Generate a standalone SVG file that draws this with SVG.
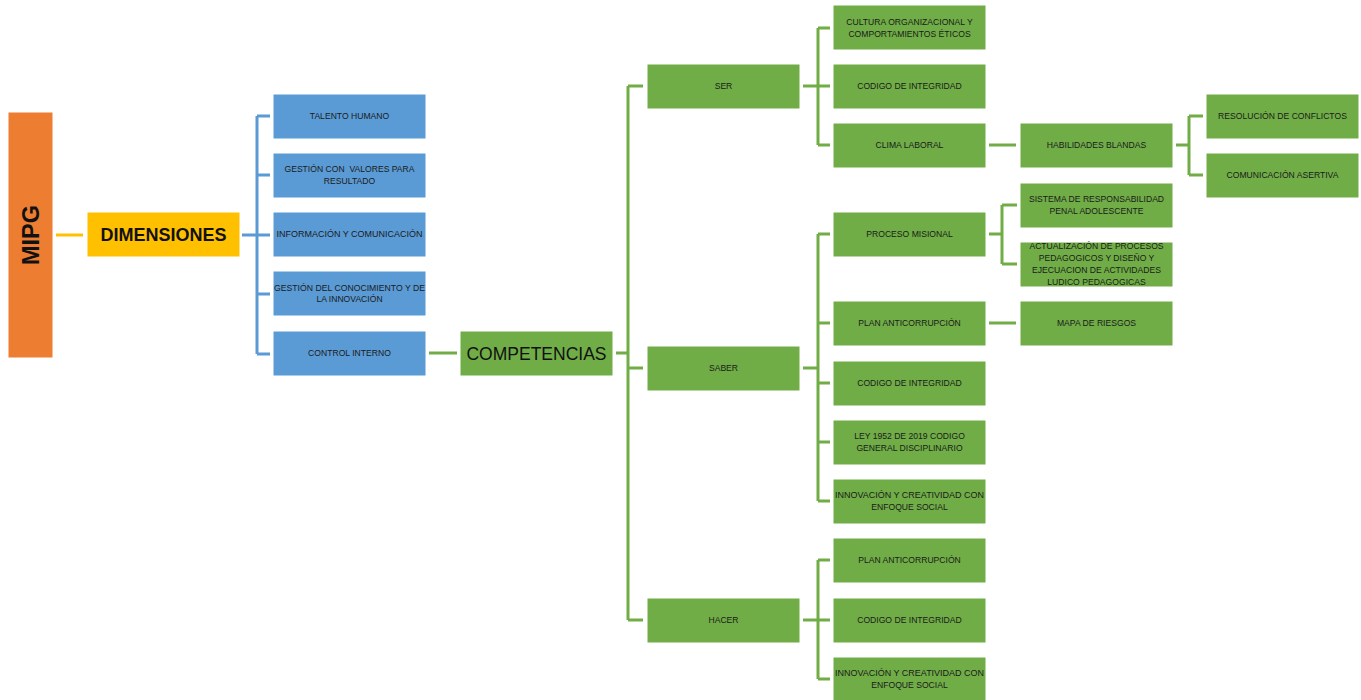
<svg xmlns="http://www.w3.org/2000/svg" width="1361" height="700" viewBox="0 0 1361 700">
<style>
.b{fill:#5B9BD5;stroke:#ffffff;stroke-width:1}
.g{fill:#70AD47;stroke:#ffffff;stroke-width:1}
.t{font-family:"Liberation Sans",Arial,sans-serif;font-size:8.6px;fill:#1a1a1a;text-anchor:middle}
.lb{fill:none;stroke:#5B9BD5;stroke-width:3}
.lg{fill:none;stroke:#70AD47;stroke-width:3}
</style>
<rect width="1361" height="700" fill="#ffffff"/>
<g id="connectors">
<line x1="56" y1="235" x2="83" y2="235" stroke="#FFC000" stroke-width="3"/>
<path class="lb" d="M242 235H270M257 116V354M257 116H270M257 175H270M257 294H270M257 354H270"/>
<path class="lg" d="M429 353H457"/>
<path class="lg" d="M616 353H628M628 86V620M628 86H643M628 368H643M628 620H643"/>
<path class="lg" d="M803 86H830M818 28V145M818 28H830M818 145H830"/>
<path class="lg" d="M989 145H1016"/>
<path class="lg" d="M1176 145H1189M1189 116V175M1189 116H1203M1189 175H1203"/>
<path class="lg" d="M803 368H818M818 234V501M818 234H830M818 323H830M818 383H830M818 442H830M818 501H830"/>
<path class="lg" d="M989 234H1002M1002 205V264M1002 205H1017M1002 264H1017"/>
<path class="lg" d="M989 323H1016"/>
<path class="lg" d="M803 620H830M818 560V679M818 560H830M818 679H830"/>
</g>
<g id="mipg"><rect x="8" y="112" width="45" height="246" fill="#ED7D31" stroke="#ffffff"/><text transform="translate(39,235) rotate(-90)" text-anchor="middle" font-family="Liberation Sans,Arial,sans-serif" font-weight="bold" font-size="23.5" fill="#111">MIPG</text></g>
<g id="dimensiones"><rect x="87" y="212" width="153" height="45" fill="#FFC000" stroke="#ffffff"/><text x="163.5" y="241" text-anchor="middle" font-family="Liberation Sans,Arial,sans-serif" font-weight="bold" font-size="18" fill="#111">DIMENSIONES</text></g>
<g id="talento"><rect class="b" x="273" y="94" width="153" height="45"/><text class="t" x="349.5" y="119">TALENTO HUMANO</text></g>
<g id="gestion-valores"><rect class="b" x="273" y="153" width="153" height="45"/><text class="t" x="349.5" y="172">GESTIÓN CON&#160; VALORES PARA</text><text class="t" x="349.5" y="184">RESULTADO</text></g>
<g id="informacion"><rect class="b" x="273" y="212" width="153" height="45"/><text class="t" x="349.5" y="237" textLength="146" lengthAdjust="spacingAndGlyphs">INFORMACIÓN Y COMUNICACIÓN</text></g>
<g id="gestion-conocimiento"><rect class="b" x="273" y="271" width="153" height="45"/><text class="t" x="349.5" y="291" textLength="151" lengthAdjust="spacingAndGlyphs">GESTIÓN DEL CONOCIMIENTO Y DE</text><text class="t" x="349.5" y="302">LA INNOVACIÓN</text></g>
<g id="control"><rect class="b" x="273" y="331" width="153" height="45"/><text class="t" x="349.5" y="356">CONTROL INTERNO</text></g>
<g id="competencias"><rect class="g" x="460" y="331" width="153" height="45"/><text x="536.5" y="360" text-anchor="middle" font-family="Liberation Sans,Arial,sans-serif" font-size="17.5" fill="#111">COMPETENCIAS</text></g>
<g id="ser"><rect class="g" x="647" y="64" width="153" height="45"/><text class="t" x="723.5" y="89">SER</text></g>
<g id="saber"><rect class="g" x="647" y="346" width="153" height="45"/><text class="t" x="723.5" y="371">SABER</text></g>
<g id="hacer"><rect class="g" x="647" y="598" width="153" height="45"/><text class="t" x="723.5" y="623">HACER</text></g>
<g id="cultura"><rect class="g" x="833" y="5" width="153" height="45"/><text class="t" x="909.5" y="25">CULTURA ORGANIZACIONAL Y</text><text class="t" x="909.5" y="37">COMPORTAMIENTOS ÉTICOS</text></g>
<g id="codigo-ser"><rect class="g" x="833" y="64" width="153" height="45"/><text class="t" x="909.5" y="89">CODIGO DE INTEGRIDAD</text></g>
<g id="clima"><rect class="g" x="833" y="123" width="153" height="45"/><text class="t" x="909.5" y="148">CLIMA LABORAL</text></g>
<g id="habilidades"><rect class="g" x="1020" y="123" width="153" height="45"/><text class="t" x="1096.5" y="148">HABILIDADES BLANDAS</text></g>
<g id="resolucion"><rect class="g" x="1206" y="94" width="153" height="45"/><text class="t" x="1282.5" y="119">RESOLUCIÓN DE CONFLICTOS</text></g>
<g id="comunicacion"><rect class="g" x="1206" y="153" width="153" height="45"/><text class="t" x="1282.5" y="178">COMUNICACIÓN ASERTIVA</text></g>
<g id="proceso"><rect class="g" x="833" y="212" width="153" height="45"/><text class="t" x="909.5" y="237">PROCESO MISIONAL</text></g>
<g id="sistema"><rect class="g" x="1020" y="183" width="153" height="45"/><text class="t" x="1096.5" y="202">SISTEMA DE RESPONSABILIDAD</text><text class="t" x="1096.5" y="214">PENAL ADOLESCENTE</text></g>
<g id="actualizacion"><rect class="g" x="1020" y="242" width="153" height="45"/><text class="t" x="1096.5" y="249">ACTUALIZACIÓN DE PROCESOS</text><text class="t" x="1096.5" y="261">PEDAGOGICOS Y DISEÑO Y</text><text class="t" x="1096.5" y="273">EJECUACION DE ACTIVIDADES</text><text class="t" x="1096.5" y="285">LUDICO PEDAGOGICAS</text></g>
<g id="plan-saber"><rect class="g" x="833" y="301" width="153" height="45"/><text class="t" x="909.5" y="326">PLAN ANTICORRUPCIÓN</text></g>
<g id="mapa"><rect class="g" x="1020" y="301" width="153" height="45"/><text class="t" x="1096.5" y="326">MAPA DE RIESGOS</text></g>
<g id="codigo-saber"><rect class="g" x="833" y="361" width="153" height="45"/><text class="t" x="909.5" y="386">CODIGO DE INTEGRIDAD</text></g>
<g id="ley"><rect class="g" x="833" y="420" width="153" height="45"/><text class="t" x="909.5" y="439">LEY 1952 DE 2019 CODIGO</text><text class="t" x="909.5" y="451">GENERAL DISCIPLINARIO</text></g>
<g id="innovacion-saber"><rect class="g" x="833" y="479" width="153" height="45"/><text class="t" x="909.5" y="498" textLength="149" lengthAdjust="spacingAndGlyphs">INNOVACIÓN Y CREATIVIDAD CON</text><text class="t" x="909.5" y="510">ENFOQUE SOCIAL</text></g>
<g id="plan-hacer"><rect class="g" x="833" y="538" width="153" height="45"/><text class="t" x="909.5" y="563">PLAN ANTICORRUPCIÓN</text></g>
<g id="codigo-hacer"><rect class="g" x="833" y="598" width="153" height="45"/><text class="t" x="909.5" y="623">CODIGO DE INTEGRIDAD</text></g>
<g id="innovacion-hacer"><rect class="g" x="833" y="657" width="153" height="45"/><text class="t" x="909.5" y="676" textLength="149" lengthAdjust="spacingAndGlyphs">INNOVACIÓN Y CREATIVIDAD CON</text><text class="t" x="909.5" y="688">ENFOQUE SOCIAL</text></g>
</svg>
